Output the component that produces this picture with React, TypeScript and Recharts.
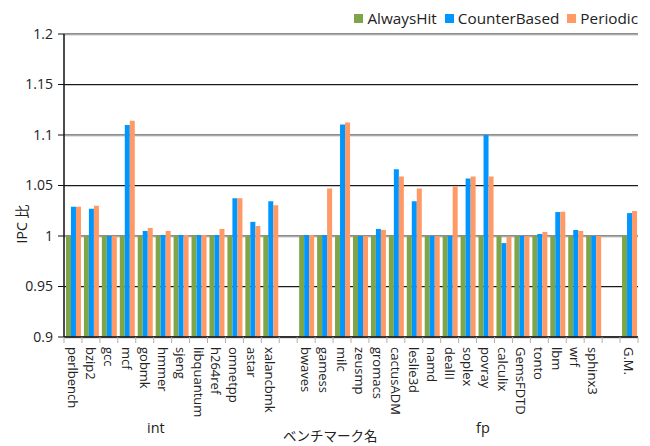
import React from 'react'
import { BarChart, Bar, XAxis, YAxis, CartesianGrid } from 'recharts'

// benchmark names, with blank slots separating int / fp / G.M.
const benchmarks = [
  'perlbench', 'bzip2', 'gcc', 'mcf', 'gobmk', 'hmmer', 'sjeng', 'libquantum', 'h264ref', 'omnetpp', 'astar', 'xalancbmk',
  '',
  'bwaves', 'gamess', 'milc', 'zeusmp', 'gromacs', 'cactusADM', 'leslie3d', 'namd', 'dealII', 'soplex', 'povray', 'calculix',
  'GemsFDTD', 'tonto', 'lbm', 'wrf', 'sphinx3',
  '',
  'G.M.',
]

const alwaysHit = [
  1, 1, 1, 1, 1, 1, 1, 1, 1, 1, 1, 1,
  null,
  1, 1, 1, 1, 1, 1, 1, 1, 1, 1, 1, 1, 1, 1, 1, 1, 1,
  null,
  1,
]

const counterBased = [
  1.029, 1.027, 1.0, 1.11, 1.005, 1.001, 1.001, 1.001, 1.001, 1.0375, 1.014, 1.0345,
  null,
  1.001, 1.001, 1.1105, 1.0, 1.007, 1.066, 1.0345, 1.0, 1.0, 1.057, 1.1, 0.993, 1.0, 1.002, 1.0237, 1.006, 1.0,
  null,
  1.0227,
]

const periodic = [
  1.029, 1.03, 1.0, 1.114, 1.008, 1.005, 1.001, 1.001, 1.007, 1.0375, 1.01, 1.0305,
  null,
  1.001, 1.047, 1.1125, 1.0, 1.006, 1.059, 1.047, 1.0, 1.049, 1.059, 1.059, 0.999, 1.0, 1.004, 1.024, 1.005, 1.0,
  null,
  1.0247,
]

const yTicks = [0.9, 0.95, 1.0, 1.05, 1.1, 1.15, 1.2]

const series = [
  { key: 'alwaysHit', name: 'AlwaysHit', color: '#7ea648' },
  { key: 'counterBased', name: 'CounterBased', color: '#0096ff' },
  { key: 'periodic', name: 'Periodic', color: '#ff9a66' },
]

const data = benchmarks.map((name, i) => ({
  id: `c${i}`,
  name,
  alwaysHit: alwaysHit[i],
  counterBased: counterBased[i],
  periodic: periodic[i],
}))

const FONT = '"Open Sans", "Noto Sans CJK JP", sans-serif'
const CJK_FONT = '"Noto Sans CJK JP", sans-serif'

// vertical benchmark label plus a boundary tick on the left edge of each slot
const BenchTick = (props: any) => {
  const { x, y, payload, index } = props
  const half = payload.offset ?? 9
  const label = data[index]?.name ?? ''
  const last = index === data.length - 1
  return (
    <g>
      <line x1={x - half} x2={x - half} y1={y} y2={y + 6} stroke="#b0b0b0" />
      {last && <line x1={x + half} x2={x + half} y1={y} y2={y + 6} stroke="#b0b0b0" />}
      <text
        x={x}
        y={y + 10}
        transform={`rotate(90, ${x}, ${y + 10})`}
        textAnchor="start"
        dominantBaseline="central"
        fontSize={13}
        fontFamily={FONT}
        fill="#222"
      >
        {label}
      </text>
    </g>
  )
}

// dark grid line with a light shadow just under it
const GridLine = (props: any) => {
  const { x1, x2, y1 } = props
  return (
    <g>
      <line x1={x1} x2={x2} y1={y1} y2={y1} stroke="#1a1a1a" />
      <line x1={x1} x2={x2} y1={y1 + 1} y2={y1 + 1} stroke="#c8c8c8" />
    </g>
  )
}

const textStyle: React.CSSProperties = { position: 'absolute', color: '#222', whiteSpace: 'nowrap' }

export default function App() {
  return (
    <div style={{ position: 'absolute', left: 0, top: 0, width: 650, height: 446, fontFamily: FONT }}>
      <BarChart
        width={650}
        height={446}
        data={data}
        margin={{ top: 34, right: 12, left: 0, bottom: 0 }}
        barCategoryGap="11%"
        barGap={0}
      >
        <CartesianGrid vertical={false} horizontal={GridLine} />
        <XAxis
          dataKey="id"
          height={109}
          interval={0}
          tickLine={false}
          tickSize={0}
          tickMargin={0}
          axisLine={{ stroke: '#111', strokeWidth: 1.5 }}
          tick={BenchTick}
        />
        <YAxis
          width={64}
          domain={[0.9, 1.2]}
          ticks={yTicks}
          allowDataOverflow
          tickSize={6}
          tickMargin={5}
          tickLine={{ stroke: '#111' }}
          axisLine={{ stroke: '#111', strokeWidth: 1.5 }}
          tick={{ fontSize: 14, fill: '#222', fontFamily: FONT }}
          tickFormatter={(v: number) => String(Math.round(v * 100) / 100)}
        />
        <YAxis
          yAxisId="border"
          orientation="right"
          width={0}
          domain={[0, 1]}
          tick={false}
          tickLine={false}
          axisLine={{ stroke: '#888', strokeWidth: 2 }}
        />
        {series.map((s) => (
          <Bar key={s.key} dataKey={s.key} name={s.name} fill={s.color} isAnimationActive={false} />
        ))}
      </BarChart>

      {/* legend */}
      <div
        style={{
          position: 'absolute',
          top: 9,
          right: 12,
          display: 'flex',
          gap: 8,
          fontSize: 15.3,
          color: '#222',
          lineHeight: '18px',
        }}
      >
        {series.map((s) => (
          <span key={s.key} style={{ display: 'flex', alignItems: 'center' }}>
            <span style={{ width: 9, height: 9, background: s.color, marginRight: 4, display: 'inline-block' }} />
            {s.name}
          </span>
        ))}
      </div>

      {/* y axis title */}
      <div
        style={{
          ...textStyle,
          left: 22,
          top: 224,
          fontSize: 14,
          lineHeight: '14px',
          transform: 'translate(-50%, -50%) rotate(-90deg)',
        }}
      >
        IPC 比
      </div>

      {/* group labels and axis title */}
      <div style={{ ...textStyle, left: 147, top: 421, fontSize: 14.5, lineHeight: '14px' }}>int</div>
      <div style={{ ...textStyle, left: 476, top: 421, fontSize: 14.5, lineHeight: '14px' }}>fp</div>
      <div style={{ ...textStyle, left: 283, top: 428, fontSize: 13.5, lineHeight: '14px', fontFamily: CJK_FONT }}>
        ベンチマーク名
      </div>
    </div>
  )
}
